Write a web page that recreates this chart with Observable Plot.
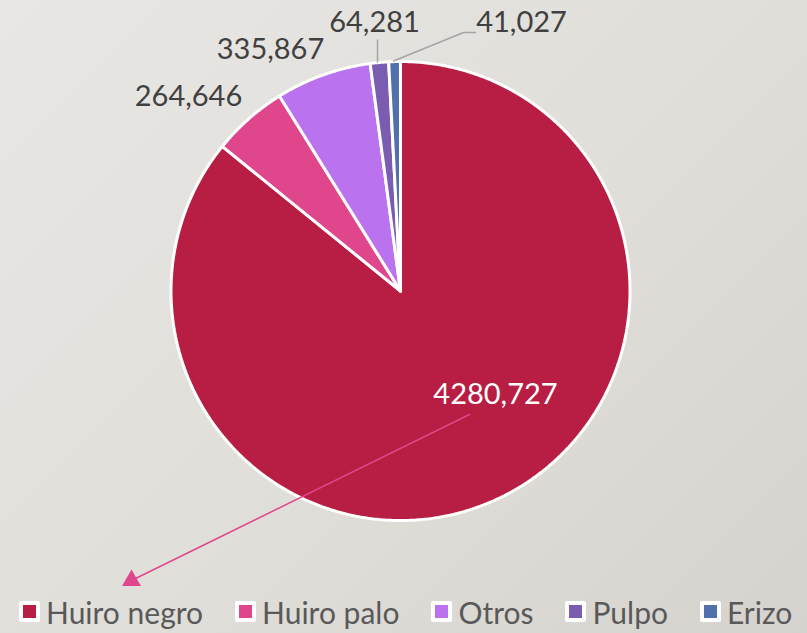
<!DOCTYPE html>
<html>
<head>
<meta charset="utf-8">
<script src="https://cdn.jsdelivr.net/npm/d3@7"></script>
<script src="https://cdn.jsdelivr.net/npm/@observablehq/plot@0.6"></script>
<style>
  html, body { margin: 0; padding: 0; }
  body {
    width: 807px; height: 633px; overflow: hidden;
    background: linear-gradient(135deg, #e9e7e4 0%, #e0ded9 55%, #d6d3ce 100%);
    font-family: Lato, "Open Sans", sans-serif;
  }
  #chart svg { display: block; background: transparent; }
  #legend {
    height: 43px; display: flex; align-items: center; justify-content: flex-start;
    gap: 32px; font-size: 30px; color: #595959; padding-left: 19px; box-sizing: border-box;
  }
  .item { display: flex; align-items: center; gap: 6px; }
  .sw { width: 13px; height: 13px; border: 4px solid #fff; border-radius: 2px; }
</style>
</head>
<body>
<div id="chart"></div>
<div id="legend"></div>
<script>
// ---- data ----
const categories = ["Huiro negro", "Huiro palo", "Otros", "Pulpo", "Erizo"];
const values = [4280.727, 264.646, 335.867, 64.281, 41.027];
const colors = ["#b81e43", "#df468b", "#bb72ef", "#7a5db0", "#5270ab"];

// ---- layout (style constants, pixel offsets from pie centre, y up) ----
const R = 229.5;
const W = 807, H = 590;
const cx = 400, cy = 290.5;
const labelPos = {
  "Huiro negro": [95, -104],
  "Huiro palo": [-212, 194],
  "Otros": [-130, 241],
  "Pulpo": [-26, 268],
  "Erizo": [121, 268]
};
const labelColor = { "Huiro negro": "#ffffff" };

const fmt = v => d3.format(".3f")(v).replace(".", ",");

// pie geometry from the values
const total = d3.sum(values);
const slices = [];
let acc = 0;
categories.forEach((c, i) => {
  const a0 = acc / total * 2 * Math.PI;
  acc += values[i];
  const a1 = acc / total * 2 * Math.PI;
  const n = Math.max(2, Math.ceil((a1 - a0) / (Math.PI / 360)));
  slices.push({ cat: c, x: 0, y: 0 });
  for (let k = 0; k <= n; k++) {
    const a = a0 + (a1 - a0) * k / n;
    slices.push({ cat: c, x: R * Math.sin(a), y: R * Math.cos(a) });
  }
  slices.push({ cat: c, x: 0, y: 0 });
});

const labels = categories.map((c, i) => ({
  cat: c, text: fmt(values[i]), x: labelPos[c][0], y: labelPos[c][1],
  color: labelColor[c] || "#404040"
}));

// leader lines (from label to slice)
const leaders = [
  { id: "p", x: -23, y: 251 }, { id: "p", x: -23, y: 229 },
  { id: "e", x: 75, y: 258.5 }, { id: "e", x: 63, y: 258.5 }, { id: "e", x: -7, y: 230 }
];
// arrow annotation
const arrowLine = [{ x: 69, y: -123.5 }, { x: -269, y: -289.5 }];

const chart = Plot.plot({
  width: W, height: H,
  margin: 0,
  x: { domain: [-cx, W - cx], range: [0, W], axis: null },
  y: { domain: [-(H - cy), cy], range: [H, 0], axis: null },
  color: { domain: categories, range: colors },
  style: { background: "transparent", fontFamily: "Lato, 'Open Sans', sans-serif" },
  marks: [
    Plot.line(slices, {
      x: "x", y: "y", z: "cat", fill: "cat",
      stroke: "#ffffff", strokeWidth: 3, strokeLinejoin: "miter", curve: "linear"
    }),
    Plot.line(leaders, { x: "x", y: "y", z: "id", stroke: "#a5a5a5", strokeWidth: 1.5 }),
    Plot.line(arrowLine, { x: "x", y: "y", stroke: "#df468b", strokeWidth: 1.5 }),
    Plot.dot([arrowLine[1]], { x: "x", y: "y", symbol: "triangle", r: 7, fill: "#df468b", stroke: "none" }),
    Plot.text(labels, {
      x: "x", y: "y", text: "text", fill: "color",
      fontSize: 29, textAnchor: "middle", lineAnchor: "middle"
    })
  ]
});
document.getElementById("chart").appendChild(chart);

const legend = document.getElementById("legend");
categories.forEach((c, i) => {
  const it = document.createElement("div");
  it.className = "item";
  const sw = document.createElement("span");
  sw.className = "sw";
  sw.style.background = colors[i];
  const t = document.createElement("span");
  t.textContent = c;
  it.appendChild(sw); it.appendChild(t);
  legend.appendChild(it);
});
</script>
</body>
</html>
